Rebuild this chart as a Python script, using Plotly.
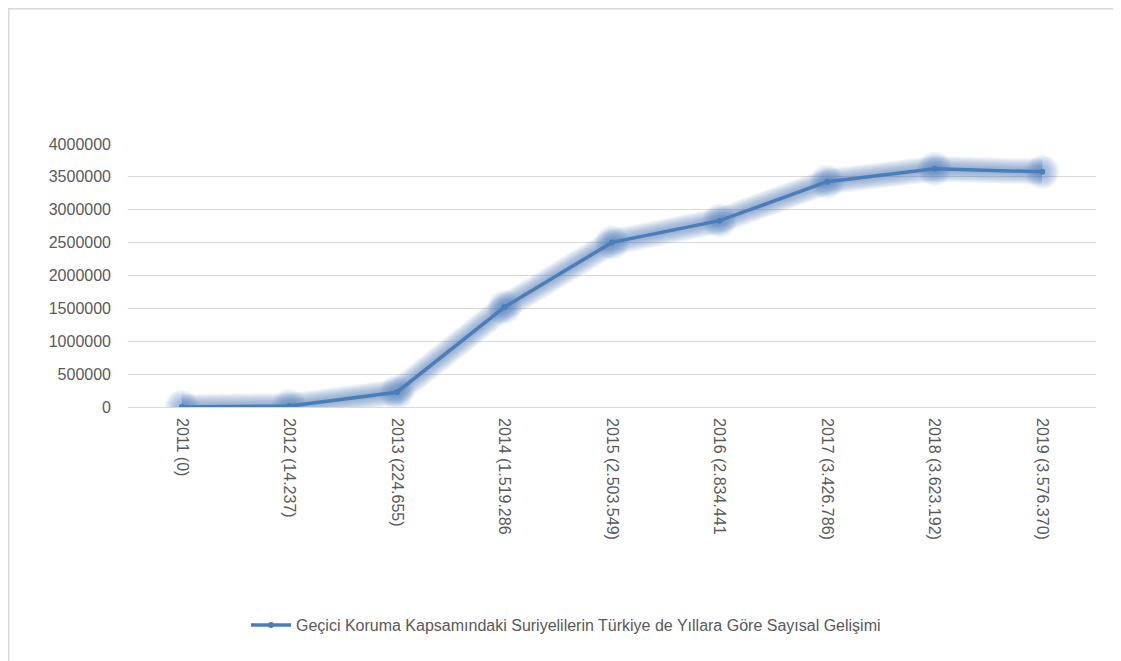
import plotly.graph_objects as go

labels = ["2011 (0)", "2012 (14.237)", "2013 (224.655)", "2014 (1.519.286",
          "2015 (2.503.549)", "2016 (2.834.441", "2017 (3.426.786)",
          "2018 (3.623.192)", "2019 (3.576.370)"]
values = [0, 14237, 224655, 1519286, 2503549, 2834441, 3426786, 3623192, 3576370]
series_name = "Geçici Koruma Kapsamındaki Suriyelilerin Türkiye de Yıllara Göre Sayısal Gelişimi"
y_ticks = [0, 500000, 1000000, 1500000, 2000000, 2500000, 3000000, 3500000, 4000000]

x_idx = list(range(len(labels)))
blue = "rgb(74,126,187)"
FONT = "Liberation Sans"

# page has an 8px body margin; figure coordinates are offset accordingly
W, H = 1113, 653
L, R, T, B = 120, 25, 136, 254
PW, PH = W - L - R, H - T - B

fig = go.Figure()
# soft glow: many thin translucent layers
for w in range(26, 5, -2):
    fig.add_trace(go.Scatter(x=x_idx, y=values, mode="lines",
                             line=dict(color="rgba(79,129,189,0.07)", width=w),
                             hoverinfo="skip", showlegend=False))
for s in range(34, 12, -3):
    fig.add_trace(go.Scatter(x=x_idx, y=values, mode="markers",
                             marker=dict(color="rgba(79,129,189,0.08)", size=s, line=dict(width=0)),
                             hoverinfo="skip", showlegend=False))
fig.add_trace(go.Scatter(x=x_idx, y=values, mode="lines+markers", name=series_name,
                         line=dict(color=blue, width=3.5),
                         marker=dict(color=blue, size=6)))

fig.update_layout(
    width=W, height=H,
    margin=dict(l=L, r=R, t=T, b=B),
    paper_bgcolor="white", plot_bgcolor="white",
    font=dict(family=FONT, size=16, color="#595959"),
    showlegend=True,
    legend=dict(orientation="h", x=(238 - L) / PW, xanchor="left", y=-0.829, yanchor="middle",
                font=dict(family=FONT, size=16, color="#595959"), itemwidth=40),
    xaxis=dict(range=[-0.5, 8.5], tickmode="array", tickvals=x_idx, ticktext=labels,
               tickangle=90, showgrid=False, zeroline=False, showline=False,
               ticks="", ticklen=0, ticklabelstandoff=10),
    yaxis=dict(range=[0, 4000000], tickmode="array", tickvals=y_ticks,
               ticktext=[str(v) for v in y_ticks],
               showgrid=True, gridcolor="#D9D9D9", gridwidth=1,
               zeroline=True, zerolinecolor="#D9D9D9", zerolinewidth=1,
               showline=False, ticks="", ticklabelstandoff=16),
    shapes=[dict(type="rect", xref="paper", yref="paper",
                 x0=(0.75 - L) / PW, x1=(W + 20 - L) / PW,
                 y0=-(B + 20) / PH, y1=(T - 0.75) / PH + 1,
                 line=dict(color="#D9D9D9", width=1.5), fillcolor="rgba(0,0,0,0)",
                 layer="below")],
)

fig.write_html("out.html")
